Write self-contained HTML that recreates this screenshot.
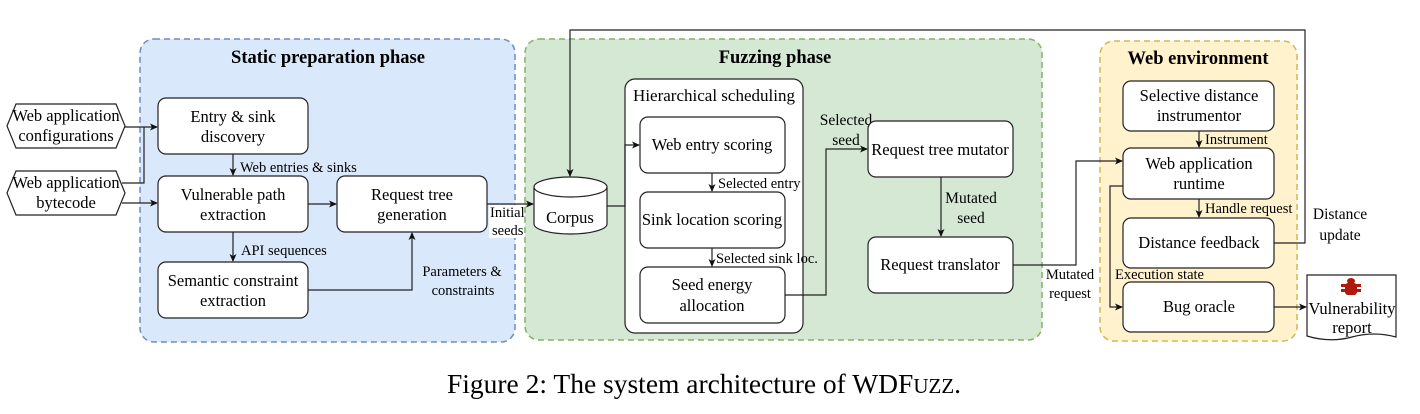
<!DOCTYPE html>
<html><head><meta charset="utf-8"><style>
html,body{margin:0;padding:0;background:#fff;}
svg{display:block;}
text{font-family:"Liberation Serif",serif;fill:#000;}
.n{font-size:16.5px;text-anchor:middle;}
.l{font-size:14.5px;}
.t{font-size:18.5px;font-weight:bold;text-anchor:middle;}
.b{fill:#fff;stroke:#222;stroke-width:1.2;}
.c{fill:none;stroke:#222;stroke-width:1.2;}
</style></head><body>
<svg width="1420" height="414" viewBox="0 0 1420 414" xmlns="http://www.w3.org/2000/svg">
<defs><marker id="a" markerWidth="8" markerHeight="8" refX="7" refY="4" orient="auto" markerUnits="userSpaceOnUse"><path d="M0,0.5 L8,4 L0,7.5 L2,4 Z" fill="#111"/></marker></defs>

<rect x="140" y="39" width="375" height="303" rx="14" fill="#dae8fc" stroke="#6c8ebf" stroke-width="1.5" stroke-dasharray="6,4"/>
<rect x="525" y="39" width="517" height="301" rx="14" fill="#d5e8d4" stroke="#82b366" stroke-width="1.5" stroke-dasharray="6,4"/>
<rect x="1100" y="41" width="197" height="300" rx="14" fill="#fff2cc" stroke="#d6b656" stroke-width="1.5" stroke-dasharray="6,4"/>
<text class="t" x="328" y="63">Static preparation phase</text>
<text class="t" x="775" y="63">Fuzzing phase</text>
<text class="t" x="1198" y="64">Web environment</text>

<polygon class="b" points="16,104 116,104 125,126 116,148 16,148 7,126"/>
<text class="n" x="66" y="121">Web application</text><text class="n" x="66" y="141">configurations</text>
<polygon class="b" points="16,171 116,171 125,193 116,215 16,215 7,193"/>
<text class="n" x="66" y="188">Web application</text><text class="n" x="66" y="208">bytecode</text>

<rect class="b" x="158" y="98" width="150" height="56" rx="8"/>
<text class="n" x="233" y="122">Entry &amp; sink</text><text class="n" x="233" y="142">discovery</text>
<rect class="b" x="158" y="176" width="150" height="56" rx="8"/>
<text class="n" x="233" y="200">Vulnerable path</text><text class="n" x="233" y="220">extraction</text>
<rect class="b" x="158" y="262" width="150" height="56" rx="8"/>
<text class="n" x="233" y="286">Semantic constraint</text><text class="n" x="233" y="306">extraction</text>
<rect class="b" x="337" y="176" width="150" height="56" rx="8"/>
<text class="n" x="412" y="200">Request tree</text><text class="n" x="412" y="220">generation</text>

<path class="c" d="M125,127 H157" marker-end="url(#a)"/>
<path class="c" d="M122,183 H144 V127"/>
<path class="c" d="M122,203 H157" marker-end="url(#a)"/>
<path class="c" d="M233,154 V175" marker-end="url(#a)"/>
<text class="l" x="240" y="172">Web entries &amp; sinks</text>
<path class="c" d="M308,204 H336" marker-end="url(#a)"/>
<path class="c" d="M233,232 V261" marker-end="url(#a)"/>
<text class="l" x="241" y="255">API sequences</text>
<path class="c" d="M308,290 H412 V233" marker-end="url(#a)"/>
<text class="l" x="462" y="276" text-anchor="middle">Parameters &amp;</text>
<text class="l" x="463" y="295" text-anchor="middle">constraints</text>
<path class="c" d="M487,204 H533" marker-end="url(#a)"/>
<rect x="489" y="205" width="30" height="33" fill="#fff"/>
<text class="l" x="490" y="217">Initial</text><text class="l" x="492" y="235">seeds</text>

<path class="b" d="M534,187 V224 A36.5,10 0 0 0 607,224 V187"/>
<ellipse class="b" cx="570.5" cy="187" rx="36.5" ry="10"/>
<text class="n" x="570" y="223">Corpus</text>

<rect class="b" x="625" y="79" width="178" height="254" rx="10"/>
<text class="n" x="714" y="101" style="font-size:17px">Hierarchical scheduling</text>
<rect class="b" x="640" y="117" width="145" height="56" rx="8"/>
<text class="n" x="712" y="150">Web entry scoring</text>
<rect class="b" x="640" y="192" width="145" height="56" rx="8"/>
<text class="n" x="712" y="225">Sink location scoring</text>
<rect class="b" x="640" y="267" width="145" height="56" rx="8"/>
<text class="n" x="712" y="290">Seed energy</text><text class="n" x="712" y="311">allocation</text>
<path class="c" d="M607,206 H625 V145 H639" marker-end="url(#a)"/>
<path class="c" d="M712,173 V191" marker-end="url(#a)"/>
<text class="l" x="718" y="188">Selected entry</text>
<path class="c" d="M712,248 V266" marker-end="url(#a)"/>
<text class="l" x="716" y="263">Selected sink loc.</text>
<path class="c" d="M785,295 H826 V149 H867" marker-end="url(#a)"/>
<text class="l" x="846" y="125" text-anchor="middle" style="font-size:15.5px">Selected</text>
<text class="l" x="846" y="145" text-anchor="middle" style="font-size:15.5px">seed</text>

<rect class="b" x="868" y="121" width="145" height="56" rx="8"/>
<text class="n" x="940" y="155">Request tree mutator</text>
<rect class="b" x="868" y="237" width="145" height="56" rx="8"/>
<text class="n" x="940" y="270">Request translator</text>
<path class="c" d="M941,177 V236" marker-end="url(#a)"/>
<text class="l" x="971" y="203" text-anchor="middle" style="font-size:15.5px">Mutated</text>
<text class="l" x="971" y="223" text-anchor="middle" style="font-size:15.5px">seed</text>

<path class="c" d="M1274,243 H1305 V30 H570 V176" marker-end="url(#a)"/>

<rect class="b" x="1123" y="81" width="151" height="50" rx="8"/>
<text class="n" x="1199" y="101">Selective  distance</text><text class="n" x="1199" y="121">instrumentor</text>
<rect class="b" x="1123" y="148" width="151" height="51" rx="8"/>
<text class="n" x="1199" y="169">Web application</text><text class="n" x="1199" y="189">runtime</text>
<rect class="b" x="1123" y="218" width="151" height="50" rx="8"/>
<text class="n" x="1199" y="248">Distance feedback</text>
<rect class="b" x="1123" y="282" width="151" height="50" rx="8"/>
<text class="n" x="1199" y="312">Bug oracle</text>
<path class="c" d="M1199,131 V147" marker-end="url(#a)"/>
<text class="l" x="1205" y="144">Instrument</text>
<path class="c" d="M1199,199 V217" marker-end="url(#a)"/>
<text class="l" x="1205" y="213">Handle request</text>
<path class="c" d="M1013,265 H1076 V161 H1122" marker-end="url(#a)"/>
<text class="l" x="1070" y="279" text-anchor="middle">Mutated</text>
<text class="l" x="1070" y="298" text-anchor="middle">request</text>
<path class="c" d="M1123,186 H1110 V307 H1122" marker-end="url(#a)"/>
<text class="l" x="1115" y="279">Execution state</text>
<text class="l" x="1340" y="219" text-anchor="middle" style="font-size:15.5px">Distance</text>
<text class="l" x="1340" y="240" text-anchor="middle" style="font-size:15.5px">update</text>
<path class="c" d="M1274,307 H1306" marker-end="url(#a)"/>

<path class="b" d="M1307,275 H1396 V337 Q1374,331 1352,337 Q1330,343 1307,336 Z"/>
<g fill="#b01a0c">
<ellipse cx="1351" cy="281" rx="4" ry="3"/>
<rect x="1345" y="283" width="12" height="12" rx="3"/>
<rect x="1341" y="284" width="20" height="3"/>
<rect x="1341" y="289" width="20" height="3"/>
</g>
<text class="n" x="1352" y="314">Vulnerability</text><text class="n" x="1352" y="333">report</text>

<text x="704" y="393" text-anchor="middle" style="font-size:27.5px">Figure 2: The system architecture of WDF<tspan style="font-size:21px">UZZ</tspan>.</text>
</svg>
</body></html>
